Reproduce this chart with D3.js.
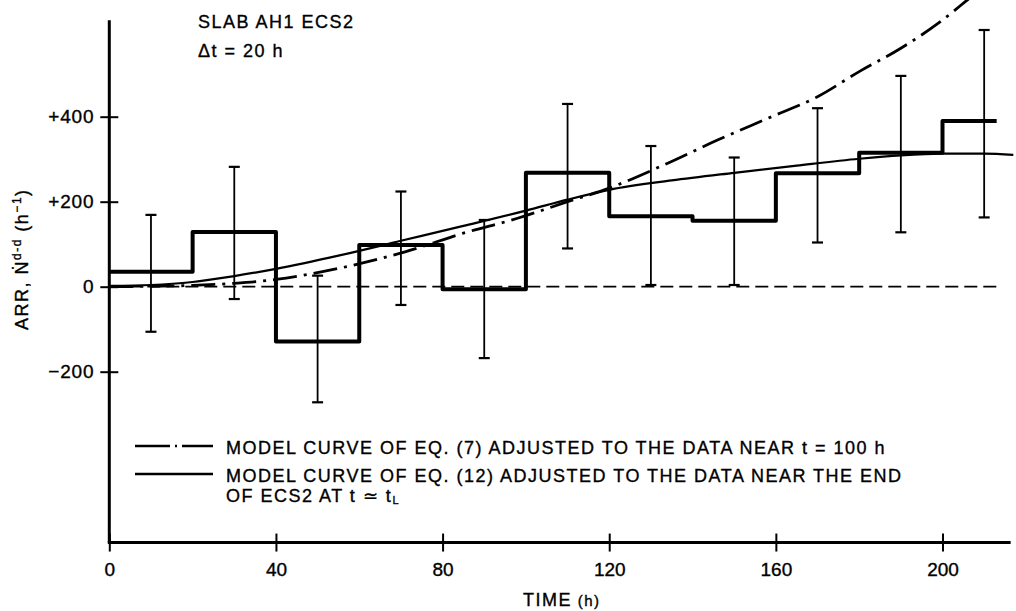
<!DOCTYPE html>
<html><head><meta charset="utf-8">
<script src="https://cdn.jsdelivr.net/npm/d3@7"></script>
<style>
body{margin:0;background:#fff;}
svg{display:block;font-family:"Liberation Sans",Arial,Helvetica,sans-serif;}
</style></head><body>
<svg id="c" width="1016" height="611"></svg>
<script>
// ---- data ----
const binStarts = [0,20,40,60,80,100,120,140,160,180,200];
const binEnd = 213;
const arrValues = [35,129,-129,98,-6,268,166,155,267,315,390];
const errT = [10,30,50,70,90,110,130,150,170,190,210];
const errLow = [-106,-29,-272,-43,-168,90,4,4,104,128,163];
const errHigh = [169,282,26,224,157,430,331,304,420,496,604];
const eq7T = [0,10,20,30,40,55,71,85,98,110,120,133,146,159,170,180,190,199,206,214];
const eq7V = [0,1,3,8,17,43,82,126,161,200,232,286,345,400,447,506,561,620,675,740];
const eq12T = [0,10,20,30,40,55,70,85,100,110,120,135,150,165,180,190,200,210,217];
const eq12V = [2,4,11,25,42,73,108,143,179,205,228,250,268,285,301,309,313,313,310];
const zeroLineT = [0,214];
const xTicks = [0,40,80,120,160,200];
const yTicks = [-200,0,200,400];
const yTickLabels = ["\u2212200","0","+200","+400"];
const xAxisExtent = [0,216];
const yAxisExtent = [-602,627];

// ---- scales ----
const svg = d3.select("#c");
const x = d3.scaleLinear().domain([0,200]).range([109.3,942.5]);
const y = d3.scaleLinear().domain([-200,400]).range([371.7,116.7]);
const FONT = "'Liberation Sans',Arial,Helvetica,sans-serif";

// ---- axes ----
const yAxis = d3.axisLeft(y).tickValues(yTicks).tickFormat((d,i)=>yTickLabels[i])
  .tickSize(9).tickSizeOuter(0).tickPadding(6);
const gy = svg.append("g").attr("transform",`translate(${x(0)},0)`).call(yAxis);
gy.select(".domain").remove();
gy.selectAll(".tick line").attr("x1",9).attr("stroke","#000").attr("stroke-width",2);
gy.selectAll(".tick text").attr("font-size",19).attr("font-family",FONT).attr("fill","#000")
  .attr("letter-spacing","0.8px").attr("stroke","#000").attr("stroke-width",0.35);

const xAxis = d3.axisBottom(x).tickValues(xTicks).tickFormat(d=>String(d))
  .tickSize(9).tickSizeOuter(0).tickPadding(11);
const gx = svg.append("g").attr("transform",`translate(0,${y(yAxisExtent[0])})`).call(xAxis);
gx.select(".domain").remove();
gx.selectAll(".tick line").attr("y1",-9).attr("stroke","#000").attr("stroke-width",2);
gx.selectAll(".tick text").attr("font-size",19).attr("font-family",FONT).attr("fill","#000")
  .attr("stroke","#000").attr("stroke-width",0.35);

// axis lines
svg.append("line").attr("x1",x(0)).attr("x2",x(0)).attr("y1",y(yAxisExtent[0])).attr("y2",y(yAxisExtent[1]))
  .attr("stroke","#000").attr("stroke-width",3);
svg.append("line").attr("x1",x(xAxisExtent[0])).attr("x2",x(xAxisExtent[1])).attr("y1",y(yAxisExtent[0])).attr("y2",y(yAxisExtent[0]))
  .attr("stroke","#000").attr("stroke-width",3).attr("stroke-linecap","square");

// zero dashed line
svg.append("line").attr("x1",x(zeroLineT[0])).attr("x2",x(zeroLineT[1])).attr("y1",y(0)).attr("y2",y(0))
  .attr("stroke","#000").attr("stroke-width",1.8).attr("stroke-dasharray","13,6");

// ---- model curves ----
const eq7 = eq7T.map((t,i)=>[t,eq7V[i]]);
const eq12 = eq12T.map((t,i)=>[t,eq12V[i]]);
const curveLine = d3.line().x(d=>x(d[0])).y(d=>y(d[1])).curve(d3.curveMonotoneX);
svg.append("path").attr("d",curveLine(eq7)).attr("fill","none").attr("stroke","#000")
  .attr("stroke-width",2.8).attr("stroke-dasharray","24,7,3,7");
svg.append("path").attr("d",curveLine(eq12)).attr("fill","none").attr("stroke","#000")
  .attr("stroke-width",2.2);

// ---- step histogram ----
const steps = binStarts.map((t,i)=>[t,arrValues[i]]).concat([[binEnd,arrValues[arrValues.length-1]]]);
const stepLine = d3.line().x(d=>x(d[0])).y(d=>y(d[1])).curve(d3.curveStepAfter);
svg.append("path").attr("d",stepLine(steps)).attr("fill","none").attr("stroke","#000")
  .attr("stroke-width",4).attr("stroke-linejoin","round");

// ---- error bars ----
const eb = svg.append("g").attr("stroke","#000");
errT.forEach((t,i)=>{
  const cx = x(t);
  eb.append("line").attr("x1",cx).attr("x2",cx).attr("y1",y(errLow[i])).attr("y2",y(errHigh[i])).attr("stroke-width",1.8);
  [errLow[i],errHigh[i]].forEach(v=>{
    eb.append("line").attr("x1",cx-5.5).attr("x2",cx+5.5).attr("y1",y(v)).attr("y2",y(v)).attr("stroke-width",2.2);
  });
});

// ---- texts ----
const txt = (xx,yy,s,size,ls)=>svg.append("text").attr("x",xx).attr("y",yy).attr("font-size",size||18)
  .attr("font-family",FONT).attr("letter-spacing",(ls===undefined?1.5:ls)+"px").attr("fill","#000")
  .attr("stroke","#000").attr("stroke-width",0.35).text(s);
txt(198,28,"SLAB AH1 ECS2");
txt(198,57,"\u0394t = 20 h");

// x label
const xl = txt(523,606,"TIME");
xl.append("tspan").attr("font-size",15).text(" (h)");

// y label
const yl = svg.append("text").attr("transform","translate(28,330) rotate(-90)")
  .attr("font-size",18).attr("font-family",FONT).attr("letter-spacing","1.5px").attr("fill","#000")
  .attr("stroke","#000").attr("stroke-width",0.35);
yl.append("tspan").text("ARR, N\u0307");
yl.append("tspan").attr("font-size",12).attr("dy",-7).text("d-d");
yl.append("tspan").attr("dy",7).text(" (h");
yl.append("tspan").attr("font-size",12).attr("dy",-7).text("\u22121");
yl.append("tspan").attr("dy",7).text(")");

// legend
svg.append("line").attr("x1",135).attr("x2",213).attr("y1",446).attr("y2",446)
  .attr("stroke","#000").attr("stroke-width",2.5).attr("stroke-dasharray","35,5,2,5");
svg.append("line").attr("x1",135).attr("x2",213).attr("y1",474).attr("y2",474)
  .attr("stroke","#000").attr("stroke-width",2.5);
txt(226,454,"MODEL CURVE OF EQ. (7) ADJUSTED TO THE DATA NEAR t = 100 h");
txt(226,481.5,"MODEL CURVE OF EQ. (12) ADJUSTED TO THE DATA NEAR THE END");
const l3 = txt(226,502,"OF ECS2 AT t \u2243 t");
l3.append("tspan").attr("font-size",11).attr("dy",2).text("L");
</script>
</body></html>
